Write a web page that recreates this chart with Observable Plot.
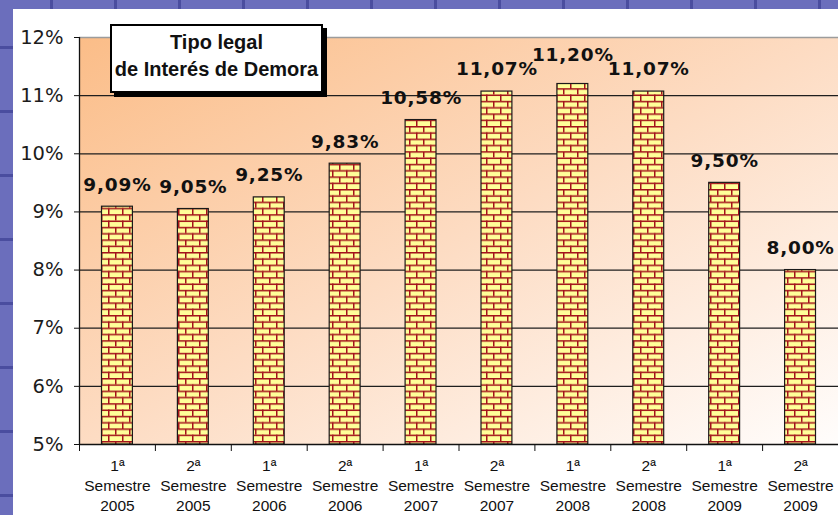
<!DOCTYPE html>
<html>
<head>
<meta charset="utf-8">
<script src="https://cdn.jsdelivr.net/npm/d3@7"></script>
<script src="https://cdn.jsdelivr.net/npm/@observablehq/plot@0.6"></script>
<style>
  html, body { margin: 0; padding: 0; }
  body {
    width: 838px; height: 515px; overflow: hidden; position: relative;
    background-color: #6b6ebc;
    background-image:
      linear-gradient(to right, #4a4d9f 0, #4a4d9f 3px, transparent 3px),
      linear-gradient(to bottom, #4a4d9f 0, #4a4d9f 3px, transparent 3px);
    background-size: 64px 64px, 64px 64px;
    background-position: 50px 0, 0 46px;
  }
  #panel { position: absolute; left: 13px; top: 9px; right: 0; bottom: 0; background: #fff; }
  #chart { position: absolute; left: 0; top: 0; }
  #chart svg g[aria-label="text"] { letter-spacing: 0.8px; }
  #title {
    position: absolute; left: 110px; top: 24px; width: 209px; height: 62px;
    background: #fff; border: 2px solid #000; box-shadow: 4px 4px 0 #000;
    font-family: "Liberation Sans", Arial, sans-serif; font-weight: bold; font-size: 20px;
    line-height: 27px; text-align: center; color: #111; padding-top: 3px; box-sizing: content-box;
  }
</style>
</head>
<body>
<div id="panel"></div>
<div id="chart"></div>
<div id="title"></div>
<script>
const semesters = ["1ª","2ª","1ª","2ª","1ª","2ª","1ª","2ª","1ª","2ª"];
const years = ["2005","2005","2006","2006","2007","2007","2008","2008","2009","2009"];
const rates = [9.09, 9.05, 9.25, 9.83, 10.58, 11.07, 11.20, 11.07, 9.50, 8.00];
const yTicks = [5, 6, 7, 8, 9, 10, 11, 12];
const titleLines = ["Tipo legal", "de Interés de Demora"];

const W = 838, H = 515, ML = 79, MR = 0, MT = 37, MB = 71;
const step = (W - ML - MR) / rates.length;
const yBase = yTicks[0];
const yMax = yTicks[yTicks.length - 1];

const data = rates.map((r, i) => {
  const prev = i > 0 ? rates[i - 1] : -Infinity;
  const next = i < rates.length - 1 ? rates[i + 1] : -Infinity;
  // a peak whose neighbours are nearly as tall: its label would collide, so lift it
  const crowded = r > prev && r > next && r - prev < 0.3 && r - next < 0.3;
  return {
    cat: `${semesters[i]}\nSemestre\n${years[i]}`,
    rate: r,
    label: r.toFixed(2).replace(".", ",") + "%",
    crowded
  };
});

const labelStyle = { fontFamily: "DejaVu Sans", fontWeight: "bold", fontSize: 18.5, fill: "#111" };

const plot = Plot.plot({
  width: W, height: H,
  marginLeft: ML, marginRight: MR, marginTop: MT, marginBottom: MB,
  style: { background: "transparent", overflow: "visible" },
  x: { type: "band", domain: data.map(d => d.cat), padding: 0, round: false },
  y: { domain: [yBase, yMax] },
  marks: [
    Plot.frame({ fill: "url(#bg)", stroke: "none" }),
    Plot.ruleY(yTicks.filter(t => t > yBase && t < yMax), { stroke: "#1e1e1e", strokeWidth: 1.2 }),
    Plot.ruleY([yMax], { stroke: "#9c9c9c", strokeWidth: 1.5 }),
    Plot.barY(data, {
      x: "cat", y1: d => yBase, y2: "rate",
      fill: "url(#brick)", stroke: "#1a1a1a", strokeWidth: 1.2,
      insetLeft: 22.5, insetRight: 22.5
    }),
    Plot.text(data.filter(d => !d.crowded), { x: "cat", y: "rate", text: "label", dy: -22, ...labelStyle }),
    Plot.text(data.filter(d => d.crowded), { x: "cat", y: "rate", text: "label", dy: -29, ...labelStyle }),
    Plot.ruleX([0], { x: () => data[0].cat, y1: d => yBase, y2: d => yMax, dx: -step / 2, stroke: "#111", strokeWidth: 1.3 }),
    Plot.ruleY([yBase], { stroke: "#111", strokeWidth: 1.3 }),
    Plot.axisY({
      ticks: yTicks, tickFormat: d => d + "%", tickSize: 5, tickPadding: 11,
      fontFamily: "DejaVu Sans", fontSize: 19.5, color: "#1c1c1c", stroke: "#111", label: null
    }),
    Plot.axisX({
      tickSize: 7, dx: -step / 2, tickFormat: () => "", stroke: "#111", label: null
    }),
    Plot.axisX({
      tickSize: 0, tickPadding: 13, lineHeight: 1.27,
      fontFamily: "Liberation Sans", fontSize: 15.5, color: "#111", label: null
    })
  ]
});

d3.select(plot).insert("defs", ":first-child").html(`
  <linearGradient id="bg" x1="0" y1="0" x2="1" y2="1">
    <stop offset="0" stop-color="#fbbd88"/>
    <stop offset="0.5" stop-color="#fddcc3"/>
    <stop offset="1" stop-color="#fffdfc"/>
  </linearGradient>
  <pattern id="brick" patternUnits="userSpaceOnUse" width="14" height="12.6">
    <rect x="0" y="0" width="14" height="12.6" fill="#ffff99"/>
    <rect x="0" y="0" width="14" height="1.5" fill="#a3121b"/>
    <rect x="0" y="6.3" width="14" height="1.5" fill="#a3121b"/>
    <rect x="3" y="0" width="1.5" height="6.3" fill="#a3121b"/>
    <rect x="10" y="6.3" width="1.5" height="6.3" fill="#a3121b"/>
  </pattern>
`);

document.getElementById("chart").appendChild(plot);
document.getElementById("title").innerHTML = titleLines.join("<br>");
</script>
</body>
</html>
